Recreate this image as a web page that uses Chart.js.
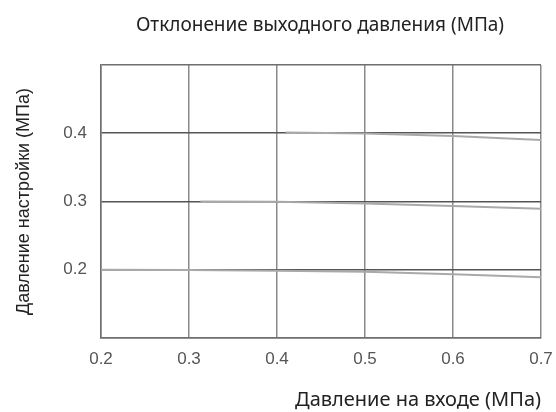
<!DOCTYPE html>
<html>
<head>
<meta charset="utf-8">
<script src="https://cdn.jsdelivr.net/npm/chart.js@4/dist/chart.umd.min.js"></script>
<style>
  html, body { margin: 0; padding: 0; background: #fff; }
  #wrap { position: relative; width: 556px; height: 412px; }
  #topTitle { position: absolute; left: 0; width: 640px; top: 11px; text-align: center;
    font-family: "Noto Sans", sans-serif; font-size: 19px; color: #222; line-height: 26px; white-space: nowrap; }
  canvas { position: absolute; left: 0; top: 0; }
</style>
</head>
<body>
<div id="wrap">
  <canvas id="c" width="556" height="412"></canvas>
  <div id="topTitle"></div>
</div>
<script>
const chartTitle = "Отклонение выходного давления (МПа)";
const xTitle = "Давление на входе (МПа)";
const yTitle = "Давление настройки (МПа)";
const xTicks = [0.2, 0.3, 0.4, 0.5, 0.6, 0.7];
const yTicks = [0.2, 0.3, 0.4];

const s04x = [0.41, 0.5, 0.6, 0.7];
const s04y = [0.401, 0.3995, 0.396, 0.390];
const s03x = [0.313, 0.4, 0.5, 0.6, 0.7];
const s03y = [0.300, 0.2995, 0.297, 0.2935, 0.2895];
const s02x = [0.2, 0.3, 0.4, 0.5, 0.6, 0.7];
const s02y = [0.200, 0.1995, 0.1985, 0.197, 0.1935, 0.189];

document.getElementById('topTitle').textContent = chartTitle;

function pts(xs, ys) { return xs.map((x, i) => ({ x: x, y: ys[i] })); }
const lineStyle = { borderColor: '#a9a9a9', borderWidth: 2, pointRadius: 0, tension: 0, fill: false, showLine: true };

new Chart(document.getElementById('c'), {
  type: 'scatter',
  data: {
    datasets: [
      Object.assign({ label: '0.4', data: pts(s04x, s04y) }, lineStyle),
      Object.assign({ label: '0.3', data: pts(s03x, s03y) }, lineStyle),
      Object.assign({ label: '0.2', data: pts(s02x, s02y) }, lineStyle)
    ]
  },
  options: {
    responsive: false,
    animation: false,
    layout: { padding: { top: 65, right: 15, left: 13, bottom: 0 } },
    plugins: { legend: { display: false }, tooltip: { enabled: false }, title: { display: false } },
    scales: {
      x: {
        type: 'linear', min: 0.2, max: 0.7,
        afterBuildTicks: s => { s.ticks = xTicks.map(v => ({ value: v })); },
        afterFit: s => { s.height = 74; s.paddingLeft = 0; s.paddingRight = 0; },
        grid: { color: '#8a8a8a', lineWidth: 1.5, drawTicks: false },
        border: { color: '#6e6e6e', width: 1.5 },
        ticks: { padding: 11, color: '#555', font: { family: 'Liberation Sans', size: 17 },
                 callback: v => v.toFixed(1), maxRotation: 0 },
        title: { display: true, text: xTitle, align: 'end', color: '#222',
                 font: { family: 'Noto Sans', size: 20 }, padding: { top: 0, bottom: 0 } }
      },
      y: {
        type: 'linear', min: 0.1, max: 0.5,
        afterBuildTicks: s => { s.ticks = [0.1].concat(yTicks, [0.5]).map(v => ({ value: v })); },
        afterFit: s => { s.width = 88; s.paddingTop = 0; s.paddingBottom = 0; },
        grid: { color: ctx => (ctx.tick && (ctx.tick.value === 0.5 || ctx.tick.value === 0.1)) ? '#6e6e6e' : '#555',
                lineWidth: 1.5, drawTicks: false },
        border: { color: '#6e6e6e', width: 1.5 },
        ticks: { padding: 14, color: '#555', font: { family: 'Liberation Sans', size: 17 },
                 callback: v => yTicks.includes(Math.round(v * 10) / 10) ? v.toFixed(1) : '' },
        title: { display: true, text: yTitle, color: '#222',
                 font: { family: 'Liberation Sans', size: 18 }, padding: { top: 0, bottom: 0 } }
      }
    }
  }
});
</script>
</body>
</html>
